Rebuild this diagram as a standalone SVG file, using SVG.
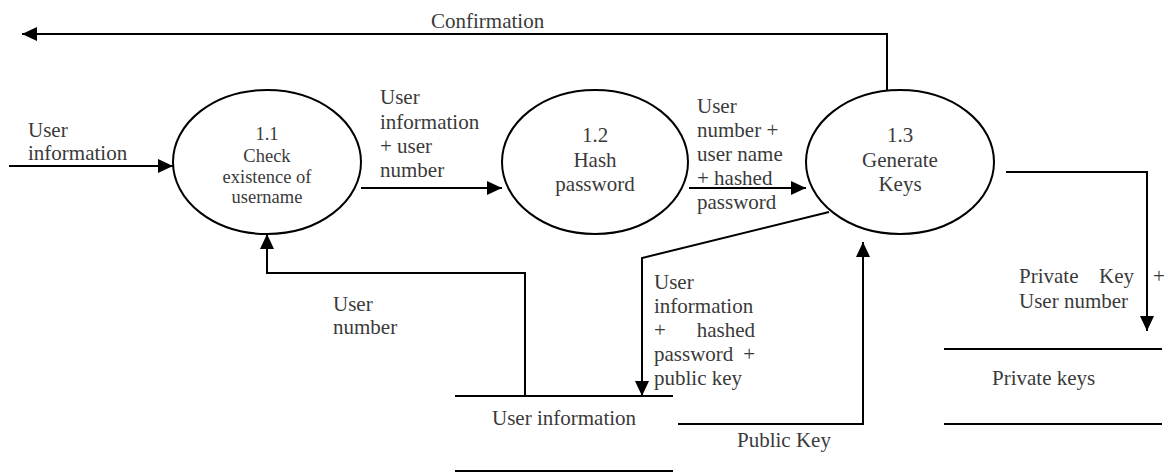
<svg xmlns="http://www.w3.org/2000/svg" width="1164" height="472" viewBox="0 0 1164 472" font-family="'Liberation Serif', 'DejaVu Serif', serif">
  <style>
    .proc { fill: #ffffff; stroke: #000000; stroke-width: 2; }
    .flow { fill: none; stroke: #000000; stroke-width: 2; }
    .store { stroke: #000000; stroke-width: 2; }
    .lbl { font-family: 'Liberation Serif', 'DejaVu Serif', serif; fill: #3a3a3a; font-size: 21px; }
    .small { font-size: 18.5px; }
    .mid { text-anchor: middle; }
  </style>
  <defs>
    <marker id="arrow" markerUnits="userSpaceOnUse" markerWidth="15" markerHeight="14" refX="15" refY="7" orient="auto">
      <path d="M0,0 L15,7 L0,14 z" fill="#000000"/>
    </marker>
  </defs>
  <rect width="1164" height="472" fill="#ffffff"/>

  <!-- data flows -->
  <g id="connectors">
    <path class="flow" d="M887,90 V34 H22" marker-end="url(#arrow)"/>
    <path class="flow" d="M9,166 H173" marker-end="url(#arrow)"/>
    <path class="flow" d="M361,188 H502" marker-end="url(#arrow)"/>
    <path class="flow" d="M689,188 H806" marker-end="url(#arrow)"/>
    <path class="flow" d="M829,212 L642,258 V396" marker-end="url(#arrow)"/>
    <path class="flow" d="M525,396 V273 H267 V234" marker-end="url(#arrow)"/>
    <path class="flow" d="M678,424 H863 V242" marker-end="url(#arrow)"/>
    <path class="flow" d="M1006,172 H1147 V331" marker-end="url(#arrow)"/>

    <text class="lbl" x="431" y="28">Confirmation</text>
    <text class="lbl" x="28" y="137">User</text>
    <text class="lbl" x="28" y="160">information</text>
    <text class="lbl" x="380" y="104">User</text>
    <text class="lbl" x="380" y="129">information</text>
    <text class="lbl" x="380" y="153">+ user</text>
    <text class="lbl" x="380" y="177">number</text>
    <text class="lbl" x="697" y="113">User</text>
    <text class="lbl" x="697" y="137">number +</text>
    <text class="lbl" x="697" y="161">user name</text>
    <text class="lbl" x="697" y="185">+ hashed</text>
    <text class="lbl" x="697" y="209">password</text>
    <text class="lbl" x="654" y="289">User</text>
    <text class="lbl" x="654" y="313">information</text>
    <text class="lbl" x="654" y="337">+</text>
    <text class="lbl" x="755" y="337" text-anchor="end">hashed</text>
    <text class="lbl" x="654" y="361">password</text>
    <text class="lbl" x="755" y="361" text-anchor="end">+</text>
    <text class="lbl" x="654" y="385">public key</text>
    <text class="lbl" x="333" y="311">User</text>
    <text class="lbl" x="333" y="334">number</text>
    <text class="lbl" x="737" y="447">Public Key</text>
    <text class="lbl" x="1019" y="283">Private</text>
    <text class="lbl" x="1134" y="283" text-anchor="end">Key</text>
    <text class="lbl" x="1153" y="283">+</text>
    <text class="lbl" x="1019" y="308">User number</text>
  </g>

  <!-- process 1.1 -->
  <g id="p1-1">
    <ellipse class="proc" cx="267" cy="162" rx="94" ry="72"/>
    <text class="lbl small mid" x="267" y="140">1.1</text>
    <text class="lbl small mid" x="267" y="162">Check</text>
    <text class="lbl small mid" x="267" y="183">existence of</text>
    <text class="lbl small mid" x="267" y="203">username</text>
  </g>

  <!-- process 1.2 -->
  <g id="p1-2">
    <ellipse class="proc" cx="595" cy="162" rx="93" ry="72"/>
    <text class="lbl mid" x="595" y="142">1.2</text>
    <text class="lbl mid" x="595" y="167">Hash</text>
    <text class="lbl mid" x="595" y="191">password</text>
  </g>

  <!-- process 1.3 -->
  <g id="p1-3">
    <ellipse class="proc" cx="900" cy="162" rx="94" ry="72"/>
    <text class="lbl mid" x="900" y="142">1.3</text>
    <text class="lbl mid" x="900" y="167">Generate</text>
    <text class="lbl mid" x="900" y="191">Keys</text>
  </g>

  <!-- data store: user information -->
  <g id="store-user-information">
    <line class="store" x1="455" y1="396" x2="673" y2="396"/>
    <line class="store" x1="455" y1="471" x2="673" y2="471"/>
    <text class="lbl" x="492" y="425">User information</text>
  </g>

  <!-- data store: private keys -->
  <g id="store-private-keys">
    <line class="store" x1="944" y1="349" x2="1162" y2="349"/>
    <line class="store" x1="944" y1="424" x2="1162" y2="424"/>
    <text class="lbl" x="992" y="385">Private keys</text>
  </g>
</svg>
